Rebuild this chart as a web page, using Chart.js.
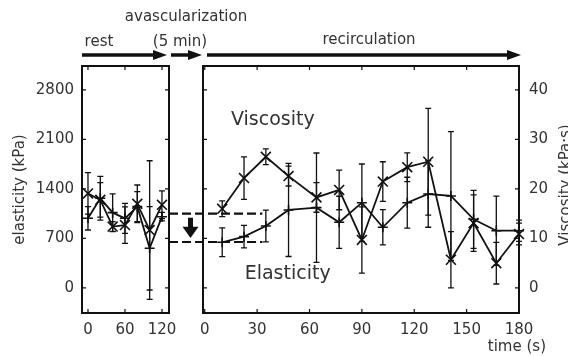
<!DOCTYPE html>
<html>
<head>
<meta charset="utf-8">
<script src="https://cdn.jsdelivr.net/npm/chart.js@4.4.1/dist/chart.umd.min.js"></script>
<style>
html,body{margin:0;padding:0;background:#fff;}
#wrap{position:relative;width:568px;height:356px;}
#wrap canvas{position:absolute;left:0;top:0;}
</style>
</head>
<body>
<div id="wrap">
<canvas id="rest" width="568" height="356"></canvas>
<canvas id="recirc" width="568" height="356"></canvas>
</div>
<script>
// rest phase (s)
var restTime=[0,20,40,60,80,100,120];
var restElasticity=[985,1268,1065,985,1150,561,1008];
var restElasticityErr=[165,310,265,212,212,590,60];
var restViscosity=[19.1,17.8,12.4,12.7,17.0,11.7,16.8];
var restViscosityErr=[4.2,3.5,1,3.7,3.8,14,2.8];

// recirculation phase (s)
var recTime=[10,22.5,35,48,64,77,90,102,116,128,141,154,167,180];
var recElasticity=[646,726,877,1103,1136,929,1206,858,1206,1329,1301,971,810,810];
var recElasticityErr=[204,160,224,658,773,368,547,250,360,470,910,410,490,150];
var recViscosity=[16.0,22.2,26.5,22.6,18.3,19.8,9.7,21.5,24.4,25.5,5.7,13.1,5.0,10.9];
var recViscosityErr=[1.6,4.3,1.6,2,3,4,6.7,4,2.9,10.8,5.7,5.7,4.2,2.2];

var elasticityTicks=[0,700,1400,2100,2800];
var viscosityTicks=[0,10,20,30,40];
var restTicks=[0,60,120];
var recTicks=[0,30,60,90,120,150,180];

var restLevel=1050, dropLevel=650, dashEnd=33;

Chart.defaults.font.family='DejaVu Sans';
Chart.defaults.font.size=15;
Chart.defaults.color='#333';

function pts(xs,ys){ return xs.map(function(t,i){ return {x:t,y:ys[i]}; }); }
function plain(v){ return String(v); }

var frame={id:'frame',afterDatasetsDraw:function(chart){
  var ctx=chart.ctx,a=chart.chartArea,x=chart.scales.x,y=chart.scales.y;
  ctx.save();
  ctx.strokeStyle='#111';ctx.lineWidth=1.2;
  ctx.beginPath();
  chart.options.xTicks.forEach(function(v){
    var px=x.getPixelForValue(v);
    ctx.moveTo(px,a.top);ctx.lineTo(px,a.top+4);
    ctx.moveTo(px,a.bottom);ctx.lineTo(px,a.bottom-4);
  });
  elasticityTicks.forEach(function(v){
    var py=y.getPixelForValue(v);
    ctx.moveTo(a.left,py);ctx.lineTo(a.left+4,py);
    ctx.moveTo(a.right,py);ctx.lineTo(a.right-4,py);
  });
  ctx.stroke();
  ctx.lineWidth=2;
  ctx.strokeRect(a.left,a.top,a.right-a.left,a.bottom-a.top);
  ctx.restore();
}};

var errorBars={id:'errorBars',beforeDatasetsDraw:function(chart){
  var ctx=chart.ctx;
  ctx.save();ctx.strokeStyle='#111';ctx.lineWidth=1.3;
  chart.data.datasets.forEach(function(ds,i){
    var ys=chart.scales[ds.yAxisID],xs=chart.scales.x;
    ctx.beginPath();
    ds.data.forEach(function(p,j){
      var px=xs.getPixelForValue(p.x),e=ds.errorBars[j];
      var t=ys.getPixelForValue(p.y+e),b=ys.getPixelForValue(p.y-e);
      ctx.moveTo(px,t);ctx.lineTo(px,b);
      ctx.moveTo(px-3,t);ctx.lineTo(px+3,t);
      ctx.moveTo(px-3,b);ctx.lineTo(px+3,b);
    });
    ctx.stroke();
  });
  ctx.restore();
}};

function hArrow(ctx,x1,x2,y){
  ctx.lineWidth=3.5;
  ctx.beginPath();ctx.moveTo(x1,y);ctx.lineTo(x2-10,y);ctx.stroke();
  ctx.beginPath();ctx.moveTo(x2,y);ctx.lineTo(x2-14,y-5);ctx.lineTo(x2-14,y+5);ctx.closePath();ctx.fill();
}

var restChart;
var overlay={id:'overlay',afterDraw:function(chart){
  var ctx=chart.ctx,a=chart.chartArea,x=chart.scales.x,y=chart.scales.y,la=restChart.chartArea;
  ctx.save();
  ctx.fillStyle='#111';ctx.strokeStyle='#111';
  hArrow(ctx,la.left,la.right-2,55);
  hArrow(ctx,la.right+2,a.left-1,55);
  hArrow(ctx,a.left+4,a.right+2,55);
  // dashed reference levels
  var yu=y.getPixelForValue(restLevel),yl=y.getPixelForValue(dropLevel),xe=x.getPixelForValue(dashEnd);
  ctx.lineWidth=2.2;ctx.setLineDash([9,4]);
  ctx.beginPath();
  ctx.moveTo(la.right,yu);ctx.lineTo(xe,yu);
  ctx.moveTo(la.right,yl);ctx.lineTo(xe,yl);
  ctx.stroke();
  ctx.setLineDash([]);
  // down arrow
  var cx=(la.right+a.left)/2+4.5;
  ctx.fillRect(cx-2.5,yu+4,5,11);
  ctx.beginPath();ctx.moveTo(cx-8,yu+13);ctx.lineTo(cx+8,yu+13);ctx.lineTo(cx,yl-4);ctx.closePath();ctx.fill();
  // texts
  ctx.fillStyle='#333';
  ctx.textAlign='center';ctx.textBaseline='middle';
  ctx.font='15px "DejaVu Sans"';
  ctx.fillText('avascularization',186,17);
  ctx.fillText('(5 min)',180,42);
  ctx.fillText('rest',99,42);
  ctx.fillText('recirculation',369,40);
  ctx.textAlign='right';
  ctx.fillText('time (s)',546,347);
  ctx.textAlign='center';
  ctx.font='19px "DejaVu Sans"';
  ctx.fillText('Viscosity',x.getPixelForValue(39),y.getPixelForValue(2375));
  ctx.fillText('Elasticity',x.getPixelForValue(47.5),y.getPixelForValue(198));
  ctx.font='15px "DejaVu Sans"';
  ctx.translate(566,185);ctx.rotate(-Math.PI/2);
  ctx.fillText('Viscosity (kPa\u00b7s)',0,0);
  ctx.restore();
}};

function lineSet(label,xs,ys,errs,axis,style,r){
  return {label:label,data:pts(xs,ys),errorBars:errs,yAxisID:axis,
    borderColor:'#111',borderWidth:1.8,tension:0,clip:false,
    pointStyle:style,pointRadius:r,pointBorderColor:'#111',pointBorderWidth:1.6,
    pointBackgroundColor:'rgba(0,0,0,0)'};
}

var hiddenGrid={display:false};
restChart=new Chart(document.getElementById('rest'),{
  type:'line',
  data:{datasets:[
    lineSet('Elasticity',restTime,restElasticity,restElasticityErr,'y','cross',5),
    lineSet('Viscosity',restTime,restViscosity,restViscosityErr,'y2','crossRot',7)
  ]},
  options:{
    responsive:false,animation:false,events:[],
    xTicks:restTicks,
    layout:{padding:{left:0,top:66,right:399,bottom:0}},
    plugins:{legend:{display:false},tooltip:{enabled:false}},
    scales:{
      x:{type:'linear',min:-9.7,max:131.4,grid:hiddenGrid,border:{display:false},
        afterBuildTicks:function(s){s.ticks=restTicks.map(function(v){return {value:v};});},
        afterFit:function(s){s.height=43;},
        ticks:{padding:0,maxRotation:0,autoSkip:false,callback:plain}},
      y:{type:'linear',position:'left',min:-354,max:3139,grid:hiddenGrid,border:{display:false},
        afterBuildTicks:function(s){s.ticks=elasticityTicks.map(function(v){return {value:v};});},
        afterFit:function(s){s.width=82;},
        ticks:{padding:0,callback:plain},
        title:{display:true,text:'elasticity (kPa)',padding:{top:11,bottom:0}}},
      y2:{type:'linear',position:'right',display:false,min:-354/70,max:3139/70}
    }
  },
  plugins:[errorBars,frame]
});

new Chart(document.getElementById('recirc'),{
  type:'line',
  data:{datasets:[
    lineSet('Elasticity',recTime,recElasticity,recElasticityErr,'y','cross',5),
    lineSet('Viscosity',recTime,recViscosity,recViscosityErr,'y2','crossRot',7)
  ]},
  options:{
    responsive:false,animation:false,events:[],
    xTicks:recTicks,
    layout:{padding:{left:203,top:66,right:0,bottom:0}},
    plugins:{legend:{display:false},tooltip:{enabled:false}},
    scales:{
      x:{type:'linear',min:-1,max:180,grid:hiddenGrid,border:{display:false},
        afterBuildTicks:function(s){s.ticks=recTicks.map(function(v){return {value:v};});},
        afterFit:function(s){s.height=43;},
        ticks:{padding:0,maxRotation:0,autoSkip:false,callback:plain}},
      y:{type:'linear',position:'left',display:false,min:-354,max:3139},
      y2:{type:'linear',position:'right',min:-354/70,max:3139/70,grid:hiddenGrid,border:{display:false},
        afterBuildTicks:function(s){s.ticks=viscosityTicks.map(function(v){return {value:v};});},
        afterFit:function(s){s.width=49;},
        ticks:{padding:2,callback:plain}}
    }
  },
  plugins:[errorBars,frame,overlay]
});
</script>
</body>
</html>
